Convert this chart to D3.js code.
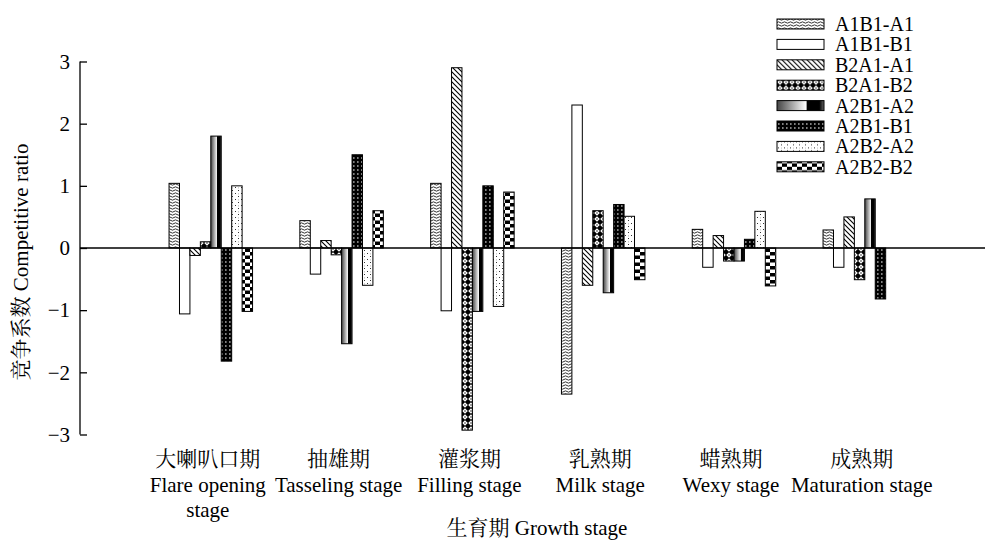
<!DOCTYPE html>
<html lang="zh">
<head>
<meta charset="UTF-8">
<title>竞争系数 Competitive ratio</title>
<style>
    body { margin: 0; background: #fff; }
    svg { display: block; }
    text { font-family: "Liberation Serif", "Noto Serif CJK SC", "Noto Sans CJK SC", serif; fill: #000; }
    .bar { stroke: #000; stroke-width: 1px; }
</style>
</head>
<body>
<script src="https://d3js.org/d3.v7.min.js"></script>
<script>
    // data
    const stagesCn = ['大喇叭口期', '抽雄期', '灌浆期', '乳熟期', '蜡熟期', '成熟期'];
    const stagesEn = [['Flare opening', 'stage'], ['Tasseling stage'], ['Filling stage'], ['Milk stage'], ['Wexy stage'], ['Maturation stage']];
    const seriesNames = ['A1B1-A1', 'A1B1-B1', 'B2A1-A1', 'B2A1-B2', 'A2B1-A2', 'A2B1-B1', 'A2B2-A2', 'A2B2-B2'];

    const a1b1_a1 = [1.04, 0.44, 1.04, -2.35, 0.30, 0.29];
    const a1b1_b1 = [-1.06, -0.42, -1.01, 2.30, -0.31, -0.31];
    const b2a1_a1 = [-0.12, 0.12, 2.90, -0.60, 0.20, 0.50];
    const b2a1_b2 = [0.10, -0.11, -2.93, 0.60, -0.21, -0.51];
    const a2b1_a2 = [1.80, -1.54, -1.02, -0.72, -0.21, 0.79];
    const a2b1_b1 = [-1.82, 1.50, 1.00, 0.70, 0.14, -0.82];
    const a2b2_a2 = [1.00, -0.60, -0.94, 0.51, 0.59, 0];
    const a2b2_b2 = [-1.02, 0.60, 0.90, -0.51, -0.61, 0];
    const seriesValues = [a1b1_a1, a1b1_b1, b2a1_a1, b2a1_b2, a2b1_a2, a2b1_b1, a2b2_a2, a2b2_b2];
    const yTicks = [-3, -2, -1, 0, 1, 2, 3];

    const W = 989, H = 541;
    const svg = d3.select('body').append('svg').attr('width', W).attr('height', H);

    // patterns
    const defs = svg.append('defs');
    function pat(id, w, h) {
        return defs.append('pattern').attr('id', id).attr('patternUnits', 'userSpaceOnUse')
            .attr('width', w).attr('height', h);
    }
    let p = pat('p0', 6, 3);
    p.append('rect').attr('width', 6).attr('height', 3).attr('fill', '#fff');
    p.append('path').attr('d', 'M0,1.5 Q1.5,0.2 3,1.5 T6,1.5').attr('fill', 'none').attr('stroke', '#000').attr('stroke-width', 0.8);

    p = pat('p2', 5, 5);
    p.append('rect').attr('width', 5).attr('height', 5).attr('fill', '#fff');
    p.append('path').attr('d', 'M-1,-1 L6,6 M-1,4 L1,6 M4,-1 L6,1').attr('stroke', '#000').attr('stroke-width', 1.1);

    p = pat('p3', 6, 6);
    p.append('rect').attr('width', 6).attr('height', 6).attr('fill', '#000');
    p.append('path').attr('d', 'M3,0.2 L5.8,3 L3,5.8 L0.2,3 Z').attr('fill', '#fff');
    p.append('rect').attr('x', 2.4).attr('y', 2.4).attr('width', 1.2).attr('height', 1.2).attr('fill', '#000');

    p = pat('p5', 4, 4);
    p.append('rect').attr('width', 4).attr('height', 4).attr('fill', '#000');
    p.append('rect').attr('x', 1).attr('y', 1.5).attr('width', 1.6).attr('height', 1).attr('fill', '#fff');

    p = pat('p6', 6, 6);
    p.append('rect').attr('width', 6).attr('height', 6).attr('fill', '#fff');
    p.append('rect').attr('x', 1).attr('y', 1).attr('width', 1).attr('height', 1).attr('fill', '#333');
    p.append('rect').attr('x', 4).attr('y', 4).attr('width', 1).attr('height', 1).attr('fill', '#333');
    p.append('rect').attr('x', 4).attr('y', 1.5).attr('width', 0.8).attr('height', 0.8).attr('fill', '#888');

    p = pat('p7', 10, 7);
    p.append('rect').attr('width', 10).attr('height', 7).attr('fill', '#fff');
    p.append('rect').attr('width', 5).attr('height', 3.5).attr('fill', '#000');
    p.append('rect').attr('x', 5).attr('y', 3.5).attr('width', 5).attr('height', 3.5).attr('fill', '#000');

    const g4 = defs.append('linearGradient').attr('id', 'p4').attr('x1', 0).attr('x2', 1).attr('y1', 0).attr('y2', 0);
    [[0, '#444'], [0.62, '#fff'], [0.64, '#000'], [0.9, '#000'], [1, '#666']].forEach(([o, c]) =>
        g4.append('stop').attr('offset', o).attr('stop-color', c));

    const fills = ['url(#p0)', '#fff', 'url(#p2)', 'url(#p3)', 'url(#p4)', 'url(#p5)', 'url(#p6)', 'url(#p7)'];

    // scales
    const x0 = d3.scalePoint().domain(stagesCn).range([80, 995.6]).padding(1);
    const groupW = 83.5;
    const x1 = d3.scaleBand().domain(seriesNames).range([-groupW / 2, groupW / 2]);
    const y = d3.scaleLinear().domain([-3, 3]).range([434.5, 61.5]);

    // bars
    seriesNames.forEach((s, si) => {
        svg.append('g').selectAll('rect')
            .data(seriesValues[si].map((v, i) => ({ v, c: stagesCn[i] })).filter(d => d.v !== 0))
            .enter().append('rect')
            .attr('class', 'bar')
            .attr('x', d => x0(d.c) + x1(s))
            .attr('width', x1.bandwidth())
            .attr('y', d => y(Math.max(0, d.v)))
            .attr('height', d => Math.abs(y(d.v) - y(0)))
            .attr('fill', fills[si]);
    });

    // y axis
    const yAxis = svg.append('g').attr('transform', 'translate(80,0)')
        .call(d3.axisRight(y).tickValues(yTicks).tickSize(7).tickFormat(d3.format('d')));
    yAxis.select('.domain').attr('d', `M0,${y(-3)}V${y(3)}`).attr('stroke', '#000').attr('stroke-width', 1.3);
    yAxis.selectAll('.tick line').attr('stroke', '#000').attr('stroke-width', 1.3);
    yAxis.selectAll('.tick text').attr('x', -10).attr('text-anchor', 'end')
        .attr('font-size', 21).attr('font-family', '"Liberation Serif", serif');

    // zero line
    svg.append('line').attr('x1', 80).attr('x2', 985).attr('y1', y(0)).attr('y2', y(0))
        .attr('stroke', '#000').attr('stroke-width', 1.6);

    // category labels
    const cat = svg.append('g').selectAll('text').data(stagesCn).enter().append('text')
        .attr('text-anchor', 'middle').attr('font-size', 21)
        .attr('x', d => x0(d) - 3).attr('y', 466);
    cat.append('tspan').text(d => d);
    cat.each(function (d, i) {
        stagesEn[i].forEach(line => {
            d3.select(this).append('tspan').attr('x', x0(d) - 3).attr('dy', 25.5).text(line);
        });
    });

    // axis titles
    svg.append('text').attr('x', 537).attr('y', 535).attr('text-anchor', 'middle').attr('font-size', 21)
        .text('生育期 Growth stage');
    svg.append('text').attr('transform', 'translate(28,262) rotate(-90)').attr('text-anchor', 'middle')
        .attr('font-size', 21).text('竞争系数 Competitive ratio');

    // legend
    const leg = svg.append('g').selectAll('g').data(seriesNames).enter().append('g')
        .attr('transform', (d, i) => `translate(777,${24 + i * 20.4})`);
    leg.append('rect').attr('class', 'bar').attr('y', -5).attr('width', 47).attr('height', 10)
        .attr('fill', (d, i) => fills[i]);
    leg.append('text').attr('x', 58).attr('y', 7).attr('font-size', 20).text(d => d);
</script>
</body>
</html>
